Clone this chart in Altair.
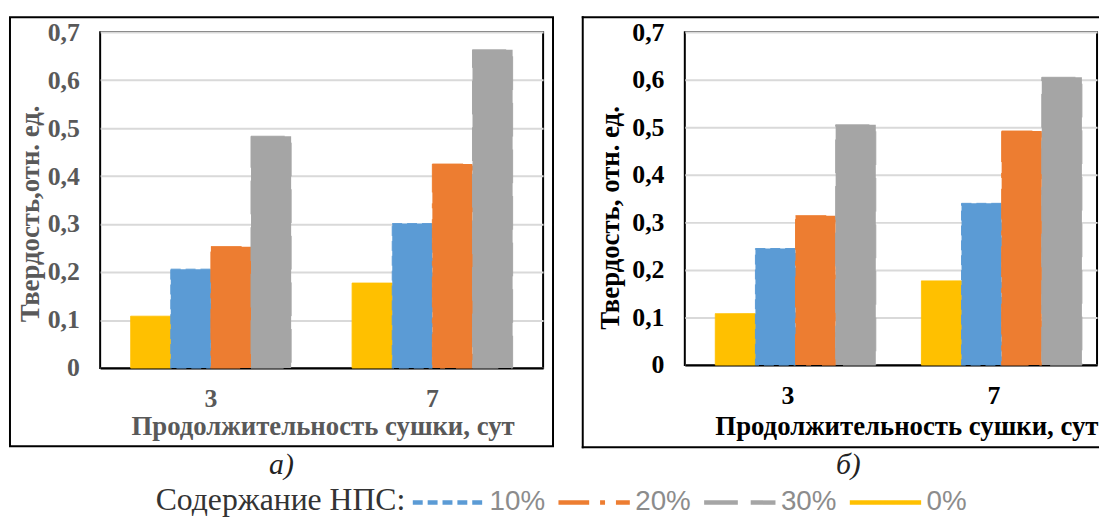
import altair as alt
import pandas as pd

# ---------------- data ----------------
days = ["3", "7"]
series = ["0%", "10%", "20%", "30%"]            # order of bars inside a group
legend_order = ["10%", "20%", "30%", "0%"]      # order in the legend
legend_colors = ["#5B9BD5", "#ED7D31", "#A5A5A5", "#FFC000"]
legend_dashes = [[10, 5], [31, 11, 5, 11], [34, 13], [1, 0]]

# panel а)
a_0 = [0.108, 0.177]
a_10 = [0.206, 0.301]
a_20 = [0.253, 0.425]
a_30 = [0.483, 0.663]

# panel б)
b_0 = [0.108, 0.177]
b_10 = [0.245, 0.340]
b_20 = [0.314, 0.492]
b_30 = [0.505, 0.605]

y_ticks = [0, 0.1, 0.2, 0.3, 0.4, 0.5, 0.6, 0.7]

x_title = "Продолжительность сушки, сут"
y_title_a = "Твердость,отн. ед."
y_title_b = "Твердость, отн. ед."
legend_title = "Содержание НПС:"
panel_a = "а)"
panel_b = "б)"

SERIF = "Liberation Serif"
SANS = "Liberation Sans Narrow, Liberation Sans"


def table(v0, v10, v20, v30):
    rows = []
    for s, vals in zip(series, [v0, v10, v20, v30]):
        for d, v in zip(days, vals):
            rows.append({"day": d, "series": s, "value": v})
    return pd.DataFrame(rows)


one = pd.DataFrame({"k": [0]})

leg = alt.Legend(
    orient="none", legendX=313, legendY=436, direction="horizontal", columns=4,
    title=None,
    symbolType="stroke", symbolSize=5184, symbolStrokeWidth=4.5,
    labelFont=SANS, labelFontSize=28, labelColor="#8C8C8C", labelOffset=3,
    columnPadding=3, labelLimit=0,
)


def bars(df, pad_outer, txt_color, ytitle, ytitle_x, ytitle_y,
         xtitle_x, xtitle_y, xtitle_align):
    return alt.Chart(df).mark_bar().encode(
        x=alt.X("day:N", sort=days,
                scale=alt.Scale(domain=days, paddingInner=0, paddingOuter=0),
                axis=alt.Axis(labelAngle=0, ticks=False, domain=True,
                              domainColor="black", domainWidth=2,
                              labelPadding=18, labelFont=SERIF,
                              labelFontSize=26, labelFontWeight="bold",
                              labelColor=txt_color,
                              title=x_title, titleFont=SERIF, titleFontSize=27,
                              titleFontWeight="bold", titleColor=txt_color,
                              titleX=xtitle_x, titleY=xtitle_y,
                              titleAlign=xtitle_align, titleLimit=0,
                              titleBaseline="alphabetic")),
        xOffset=alt.XOffset("series:N",
                            scale=alt.Scale(domain=series, paddingInner=0,
                                            paddingOuter=pad_outer)),
        y=alt.Y("value:Q",
                scale=alt.Scale(domain=[0, 0.7], nice=False, zero=True),
                axis=alt.Axis(values=y_ticks, ticks=False, domain=False,
                              labelExpr="datum.value == 0 ? '0' : replace(format(datum.value, '.1f'), '.', ',')",
                              labelPadding=21, labelFont=SERIF,
                              labelFontSize=26, labelFontWeight="bold",
                              labelColor=txt_color, labelBaseline="middle",
                              grid=True, gridColor="#D9D9D9", gridWidth=2,
                              title=ytitle, titleFont=SERIF, titleFontSize=27,
                              titleFontWeight="bold", titleColor=txt_color,
                              titleAngle=270, titleX=ytitle_x,
                              titleY=ytitle_y, titleAlign="center",
                              titleBaseline="middle", titleLimit=0)),
        fill=alt.Fill("series:N",
                      scale=alt.Scale(domain=legend_order, range=legend_colors),
                      legend=leg),
        stroke=alt.Stroke("series:N",
                          scale=alt.Scale(domain=legend_order, range=legend_colors),
                          legend=leg),
        strokeDash=alt.StrokeDash("series:N",
                                  scale=alt.Scale(domain=legend_order,
                                                  range=legend_dashes),
                                  legend=leg),
    )


def label(txt, xc, yc, size=30, style="italic", color="#222222",
          align="center"):
    return alt.Chart(one).mark_text(
        font=SERIF, fontSize=size, fontStyle=style, color=color,
        align=align, baseline="middle"
    ).encode(x=alt.value(xc), y=alt.value(yc), text=alt.value(txt))


# ---------- left panel ----------
WA, HA = 447, 339
bars_a = bars(table(a_0, a_10, a_20, a_30), 0.76, "#595959",
              y_title_a, -70, 183, WA / 2 + 1, 67, "center")
box_a = alt.Chart(one).mark_rect(fill="transparent", stroke="black",
                                 strokeWidth=2).encode(
    x=alt.value(-91), x2=alt.value(457), y=alt.value(-15), y2=alt.value(418))
left = alt.layer(
    bars_a, box_a,
    label(panel_a, 183, 437),
    label(legend_title, 56, 472, size=32, style="normal", color="#333333",
          align="left"),
).properties(width=WA, height=HA)

# ---------- right panel ----------
WB, HB = 416, 336
bars_b = bars(table(b_0, b_10, b_20, b_30), 0.737, "#000000",
              y_title_b, -75, 187, 417, 70, "right")


def rule(x1, x2, y1, y2):
    return alt.Chart(one).mark_rule(color="black", strokeWidth=2,
                                    strokeCap="square").encode(
        x=alt.value(x1), x2=alt.value(x2), y=alt.value(y1), y2=alt.value(y2))


right = alt.layer(
    bars_b,
    rule(-103, 417, -15, -15),
    rule(-103, -103, -15, 419),
    rule(-103, 417, 419, 419),
    label(panel_b, 165, 437),
).properties(width=WB, height=HB)

chart = alt.hconcat(left, right, spacing=143, bounds="flush").properties(
    padding={"left": 0, "top": 4, "right": 0, "bottom": 0}
).configure_view(stroke="black", strokeWidth=2)

chart.save("out.html", embed_options={"renderer": "svg", "actions": False})
